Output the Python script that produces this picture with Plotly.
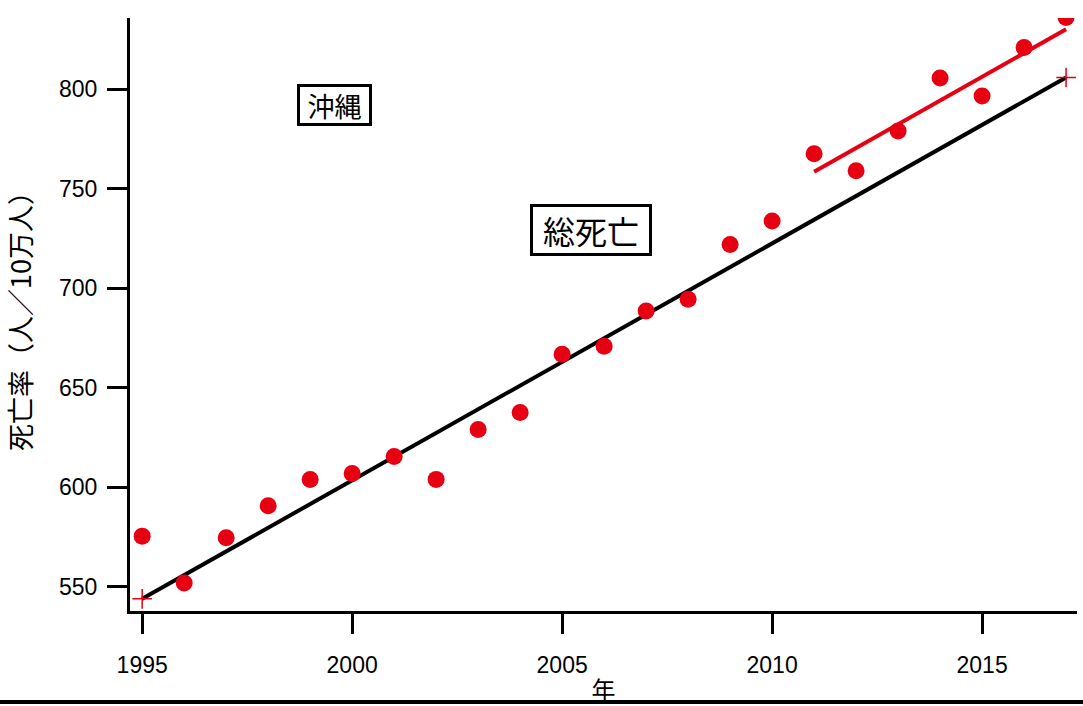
import plotly.graph_objects as go

years = list(range(1995, 2018))
rates = [575.5, 552, 574.7, 590.8, 603.9, 607, 615.5, 604, 629, 637.6,
         666.8, 670.8, 688.5, 694.5, 722, 733.8, 767.5, 759, 779, 805.6,
         796.5, 820.9, 836]

trend_all_x = [1995, 2017]
trend_all_y = [544, 805.8]
trend_recent_x = [2011, 2017]
trend_recent_y = [758.5, 830]

x_ticks = [1995, 2000, 2005, 2010, 2015]
y_ticks = [550, 600, 650, 700, 750, 800]

RED = "#e60012"
font_jp = "Noto Sans CJK JP"

fig = go.Figure()
fig.add_trace(go.Scatter(x=trend_all_x, y=trend_all_y, mode="lines+markers",
                         line=dict(color="black", width=4),
                         marker=dict(symbol="cross-thin", size=14, color=RED,
                                     line=dict(color=RED, width=1.5)),
                         showlegend=False))
fig.add_trace(go.Scatter(x=trend_recent_x, y=trend_recent_y, mode="lines",
                         line=dict(color=RED, width=4), showlegend=False))
fig.add_trace(go.Scatter(x=years, y=rates, mode="markers",
                         marker=dict(color=RED, size=17), showlegend=False))

fig.add_annotation(x=1999.58, y=791.9, text="沖縄", showarrow=False,
                   font=dict(family=font_jp, size=27, color="black"),
                   width=63, height=30,
                   bordercolor="black", borderwidth=3, borderpad=3,
                   bgcolor="white")
fig.add_annotation(x=2005.69, y=729.1, text="総死亡", showarrow=False,
                   font=dict(family=font_jp, size=32, color="black"),
                   width=110, height=40,
                   bordercolor="black", borderwidth=3, borderpad=3,
                   bgcolor="white")

# bottom rule
fig.add_shape(type="line", xref="paper", yref="paper",
              x0=-130/947, x1=1 + 6/947, y0=-91/593, y1=-91/593,
              line=dict(color="black", width=4))

fig.update_layout(
    width=1083, height=706,
    margin=dict(l=130, r=6, t=18, b=95),
    plot_bgcolor="white", paper_bgcolor="white",
    font=dict(family="Liberation Sans", size=23, color="black"),
)
fig.update_xaxes(range=[1994.71, 2017.26], tickvals=x_ticks, automargin=False,
                 showgrid=False, zeroline=False,
                 showline=True, linecolor="black", linewidth=3,
                 ticks="outside", ticklen=20, tickwidth=3, tickcolor="black",
                 ticklabelstandoff=11,
                 tickfont=dict(family="Liberation Sans", size=23),
                 title=dict(text="年", font=dict(family=font_jp, size=24), standoff=15))
fig.update_yaxes(range=[537.9, 835.7], tickvals=y_ticks, automargin=False,
                 showgrid=False, zeroline=False,
                 showline=True, linecolor="black", linewidth=3,
                 ticks="outside", ticklen=20, tickwidth=3, tickcolor="black",
                 ticklabelstandoff=5,
                 tickfont=dict(family="Liberation Sans", size=23),
                 title=dict(text="死亡率（人／10万人）", font=dict(family=font_jp, size=27), standoff=21))

fig.write_html("out.html", config={"displayModeBar": False},
               post_script="document.body.style.margin='0px';")
